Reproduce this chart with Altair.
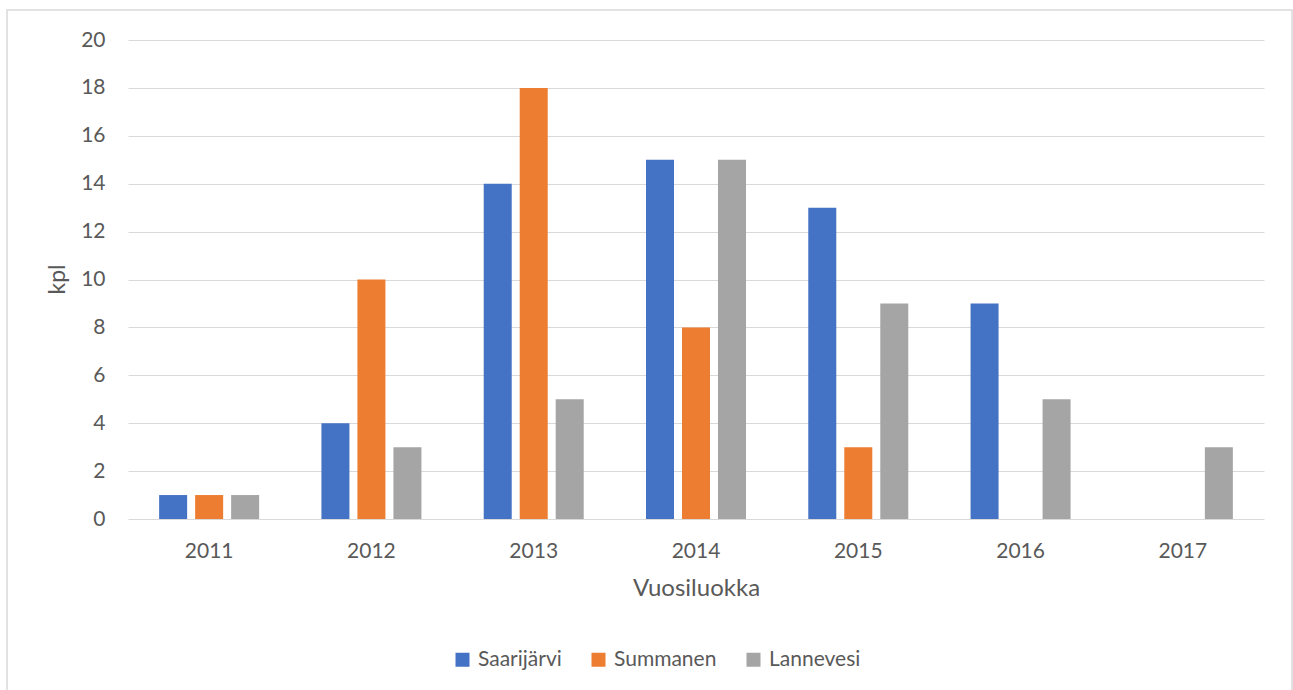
import altair as alt
import pandas as pd

# Year classes on the x axis and counts per lake (None = no fish caught)
years = ["2011", "2012", "2013", "2014", "2015", "2016", "2017"]
series = ["Saarijärvi", "Summanen", "Lannevesi"]
saarijarvi = [1, 4, 14, 15, 13, 9, None]
summanen = [1, 10, 18, 8, 3, None, None]
lannevesi = [1, 3, 5, 15, 9, 5, 3]
colors = ["#4472C4", "#ED7D31", "#A5A5A5"]
y_ticks = list(range(0, 21, 2))

rows = []
for name, vals in zip(series, [saarijarvi, summanen, lannevesi]):
    for yr, v in zip(years, vals):
        if v is not None:
            rows.append({"year": yr, "series": name, "kpl": v})
df = pd.DataFrame(rows)

FONT = "Lato"
TXT = "#595959"
GRID = "#D9D9D9"

bars = alt.Chart(df).mark_bar(cornerRadius=0).encode(
    x=alt.X(
        "year:N",
        sort=years,
        scale=alt.Scale(domain=years, paddingInner=0, paddingOuter=0),
        axis=alt.Axis(
            title="Vuosiluokka",
            labelAngle=0,
            labelFont=FONT,
            labelFontSize=21,
            labelColor=TXT,
            labelPadding=21,
            ticks=False,
            domain=False,
            grid=False,
            titleFont=FONT,
            titleFontSize=24,
            titleFontWeight="normal",
            titleColor=TXT,
            titleY=69,
            titleBaseline="middle",
        ),
    ),
    xOffset=alt.XOffset(
        "series:N",
        scale=alt.Scale(domain=series, paddingInner=0.222, paddingOuter=0.865),
    ),
    y=alt.Y(
        "kpl:Q",
        scale=alt.Scale(domain=[0, 20], nice=False),
        axis=alt.Axis(
            title="kpl",
            values=y_ticks,
            labelFont=FONT,
            labelFontSize=21,
            labelColor=TXT,
            labelPadding=23,
            ticks=False,
            domain=False,
            gridColor=GRID,
            gridWidth=1,
            titleFont=FONT,
            titleFontSize=23,
            titleFontWeight="normal",
            titleColor=TXT,
            titleAngle=-90,
            titleX=-71,
            titleY=239,
            titleAlign="center",
            titleBaseline="middle",
        ),
    ),
    color=alt.Color(
        "series:N",
        scale=alt.Scale(domain=series, range=colors),
        legend=alt.Legend(
            title=None,
            orient="none",
            direction="horizontal",
            legendX=324,
            legendY=609,
            symbolType="square",
            symbolSize=196,
            symbolStrokeWidth=0,
            symbolOpacity=1,
            labelFont=FONT,
            labelFontSize=21,
            labelColor=TXT,
            labelOffset=5,
            columnPadding=26,
        ),
    ),
)

# Light frame around the whole chart area
frame = alt.Chart(pd.DataFrame({"f": [0]})).mark_rect(
    fill=None, stroke=GRID, strokeWidth=1.5
).encode(
    x=alt.value(-121),
    x2=alt.value(1164),
    y=alt.value(-30),
    y2=alt.value(660),
)

chart = (
    alt.layer(frame, bars)
    .properties(
        width=1136,
        height=479,
        padding={"left": 128, "top": 40, "right": 29, "bottom": 171},
        autosize=alt.AutoSizeParams(type="none"),
        background="white",
    )
    .configure_view(stroke=None)
)

chart.save("out.html", embed_options={"renderer": "svg", "actions": False})
